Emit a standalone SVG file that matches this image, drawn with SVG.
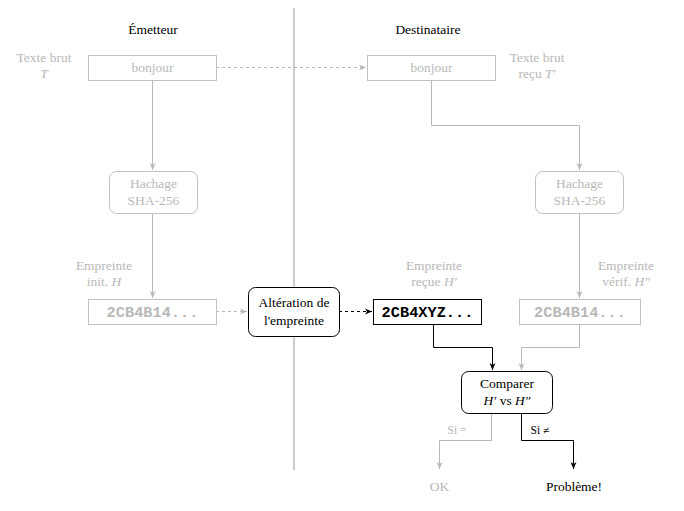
<svg xmlns="http://www.w3.org/2000/svg" width="684" height="511" viewBox="0 0 684 511">
<defs>
<marker id="ag" markerWidth="8" markerHeight="8" refX="7" refY="4" orient="auto" markerUnits="userSpaceOnUse"><path d="M0,1 L7,4 L0,7 L2,4 z" fill="#b8b8b8"/></marker>
<marker id="ab" markerWidth="8" markerHeight="8" refX="7" refY="4" orient="auto" markerUnits="userSpaceOnUse"><path d="M0,1 L7,4 L0,7 L2,4 z" fill="#000"/></marker>
</defs>
<style>
text{font-family:'Liberation Serif','Times New Roman','DejaVu Serif',serif;font-size:13.5px;text-anchor:middle}
.g{fill:#b8b8b8}
.k{fill:#000}
text.mono{font-family:'Liberation Mono','Courier New','DejaVu Sans Mono',monospace;font-weight:bold;font-size:15.3px}
.bg{fill:#fff;stroke:#c0c0c0;stroke-width:1}
.bk{fill:#fff;stroke:#000;stroke-width:1}
.lg{fill:none;stroke:#b8b8b8;stroke-width:1}
.lk{fill:none;stroke:#000;stroke-width:1}
</style>
<rect width="684" height="511" fill="#fff"/>
<text x="153" y="34" class="k">Émetteur</text>
<text x="428" y="34" class="k">Destinataire</text>
<line x1="294" y1="8" x2="294" y2="470" stroke="#aaa" stroke-width="1.2"/>

<g id="connectors">
<line x1="216" y1="67.5" x2="366" y2="67.5" class="lg" stroke-dasharray="3,3" marker-end="url(#ag)"/>
<line x1="152.5" y1="80" x2="152.5" y2="170" class="lg" marker-end="url(#ag)"/>
<polyline points="431.5,80 431.5,125.5 579.5,125.5 579.5,170" class="lg" marker-end="url(#ag)"/>
<line x1="152.5" y1="213" x2="152.5" y2="298" class="lg" marker-end="url(#ag)"/>
<line x1="579.5" y1="213" x2="579.5" y2="298" class="lg" marker-end="url(#ag)"/>
<line x1="216" y1="311.5" x2="247" y2="311.5" class="lg" stroke-dasharray="3,3" marker-end="url(#ag)"/>
<line x1="339" y1="311.5" x2="372" y2="311.5" class="lk" stroke-dasharray="3,3" marker-end="url(#ab)"/>
<polyline points="433.5,324 433.5,347.5 492.5,347.5 492.5,370" class="lk" marker-end="url(#ab)"/>
<polyline points="579.5,324 579.5,347.5 521.5,347.5 521.5,370" class="lg" marker-end="url(#ag)"/>
<polyline points="491.5,413 491.5,440.5 439.5,440.5 439.5,469" class="lg" marker-end="url(#ag)"/>
<polyline points="521.5,413 521.5,440.5 573.5,440.5 573.5,469" class="lk" marker-end="url(#ab)"/>
<text x="457" y="434" class="g" style="font-size:11.5px">Si =</text>
<text x="540" y="434" class="k" style="font-size:11.5px">Si ≠</text>
</g>

<g id="texte-brut">
<rect x="88.5" y="55.5" width="128" height="25" class="bg"/>
<text x="152.5" y="72" class="g">bonjour</text>
<text x="44" y="62" class="g">Texte brut</text>
<text x="44" y="78" class="g" font-style="italic">T</text>
</g>
<g id="texte-recu">
<rect x="367.5" y="55.5" width="128" height="25" class="bg"/>
<text x="431.5" y="72" class="g">bonjour</text>
<text x="537" y="62" class="g">Texte brut</text>
<text x="537" y="78" class="g">reçu <tspan font-style="italic">T′</tspan></text>
</g>
<g id="hachage-1">
<rect x="109.5" y="171.5" width="88" height="42" rx="7" class="bg"/>
<text x="153.5" y="188" class="g">Hachage</text>
<text x="153.5" y="205" class="g">SHA-256</text>
</g>
<g id="hachage-2">
<rect x="535.5" y="171.5" width="88" height="42" rx="7" class="bg"/>
<text x="579.5" y="188" class="g">Hachage</text>
<text x="579.5" y="205" class="g">SHA-256</text>
</g>
<g id="empreinte-init">
<rect x="88.5" y="299.5" width="128" height="25" class="bg"/>
<text x="152.5" y="317" class="g mono">2CB4B14...</text>
<text x="104" y="270" class="g">Empreinte</text>
<text x="104" y="286" class="g">init. <tspan font-style="italic">H</tspan></text>
</g>
<g id="alteration">
<rect x="248.5" y="287.5" width="91" height="49" rx="7" class="bk"/>
<text x="294" y="307" class="k">Altération de</text>
<text x="294" y="325" class="k">l'empreinte</text>
</g>
<g id="empreinte-recue">
<rect x="373.5" y="299.5" width="108" height="25" class="bk"/>
<text x="427.5" y="317" class="k mono">2CB4XYZ...</text>
<text x="434" y="270" class="g">Empreinte</text>
<text x="434" y="286" class="g">reçue <tspan font-style="italic">H′</tspan></text>
</g>
<g id="empreinte-verif">
<rect x="519.5" y="299.5" width="121" height="25" class="bg"/>
<text x="580" y="317" class="g mono">2CB4B14...</text>
<text x="626" y="270" class="g">Empreinte</text>
<text x="626" y="286" class="g">vérif. <tspan font-style="italic">H″</tspan></text>
</g>
<g id="comparer">
<rect x="461.5" y="371.5" width="91" height="42" rx="7" class="bk"/>
<text x="507" y="388" class="k">Comparer</text>
<text x="507" y="405" class="k"><tspan font-style="italic">H′</tspan> vs <tspan font-style="italic">H″</tspan></text>
</g>
<g id="ok">
<text x="439.5" y="491" class="g">OK</text>
</g>
<g id="probleme">
<text x="574" y="491" class="k">Problème!</text>
</g>
</svg>
